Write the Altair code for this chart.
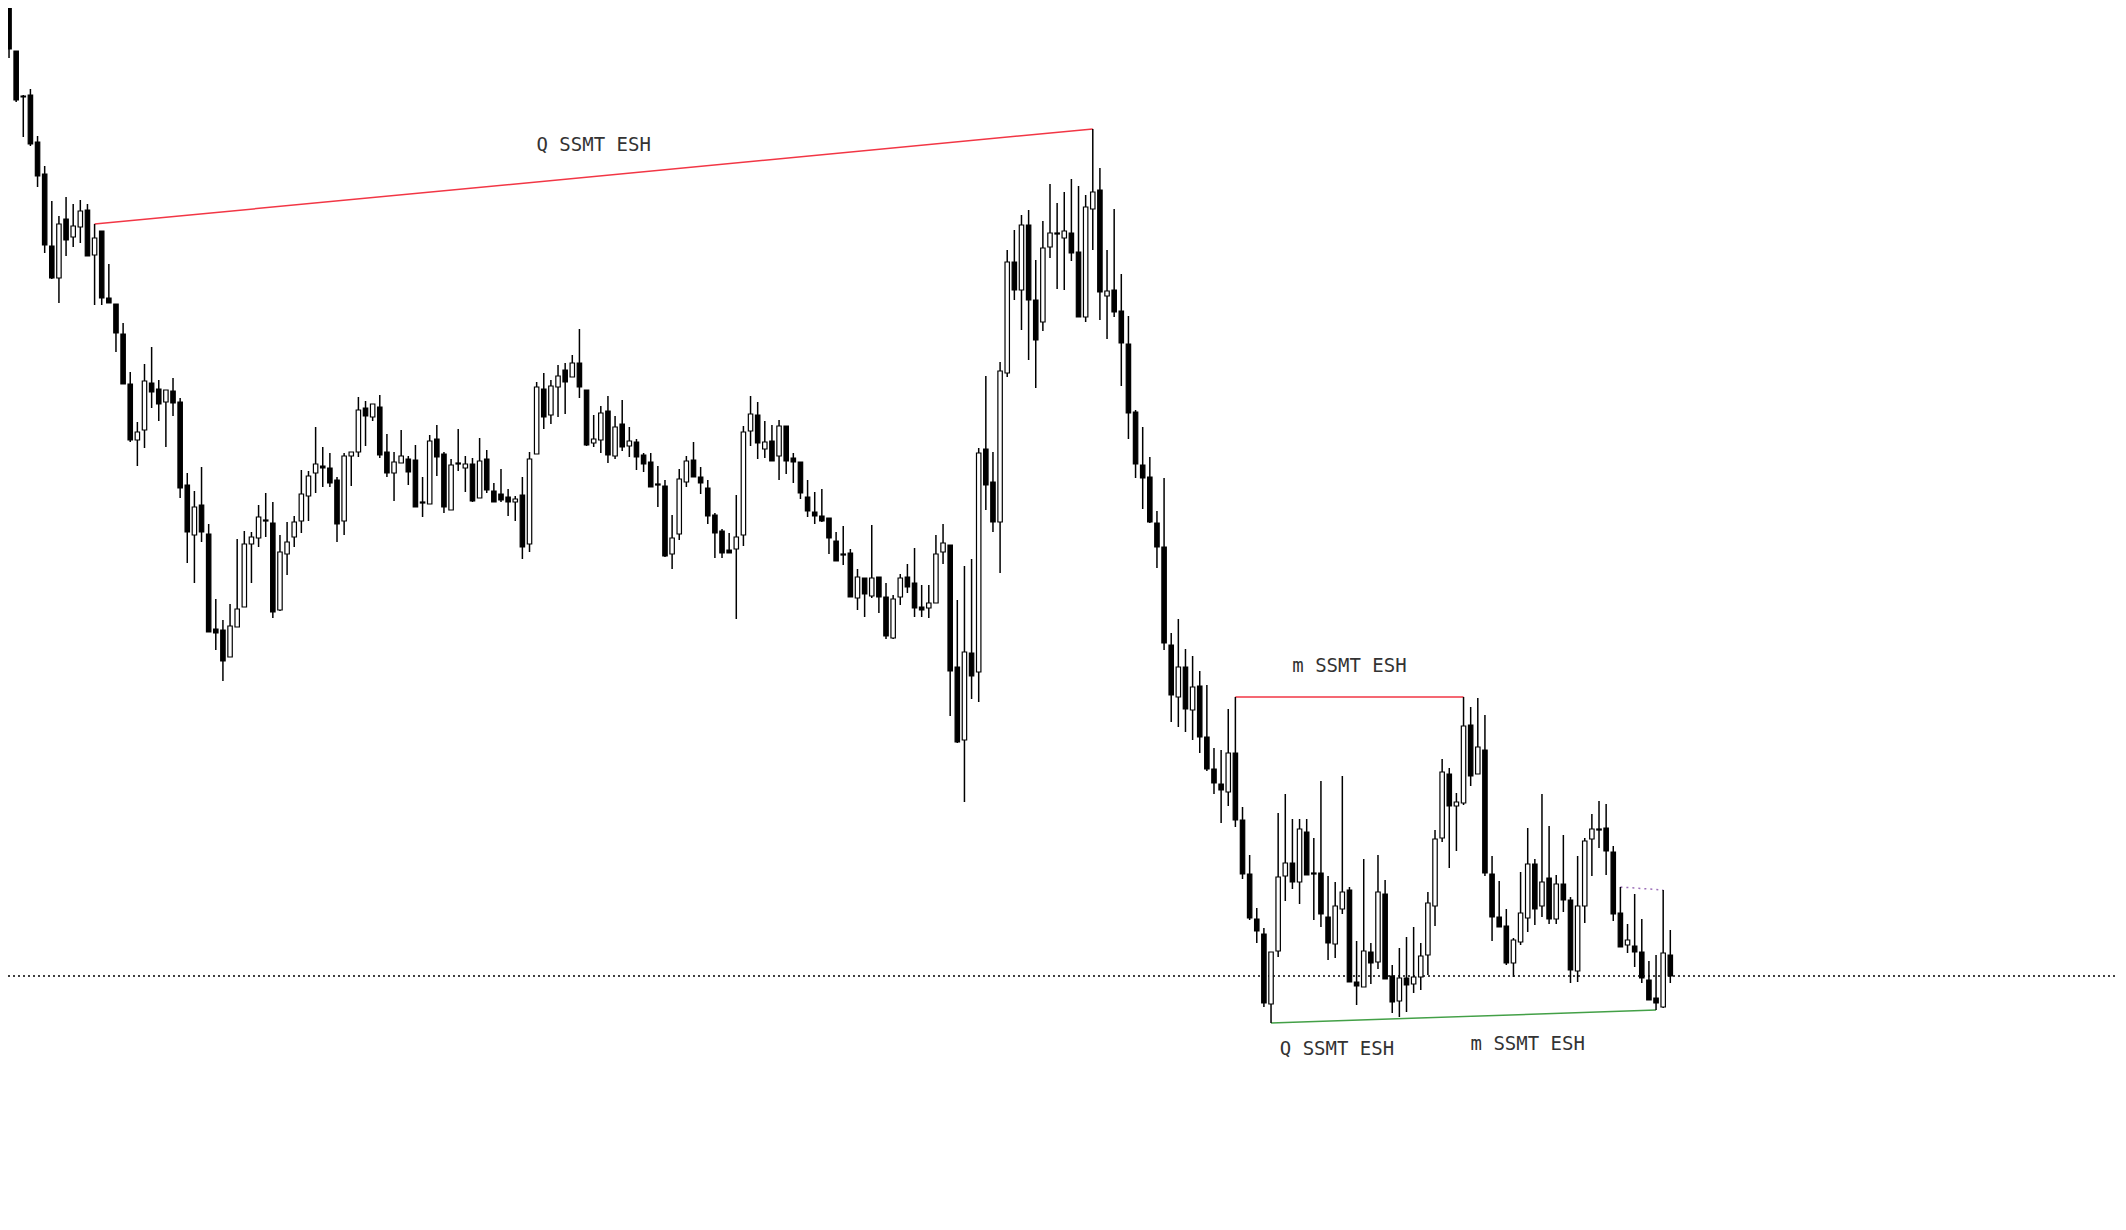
import altair as alt
import pandas as pd

# Prices are stored as ticks (0.25 pt) below a 5000.00 reference level
REF = 5000.0
TICK = 0.25

open_t = [-20, 6, 51, 96, 95, 142, 174, 246, 278, 219,
          237, 227, 210, 255, 231, 298, 304, 334, 384, 440,
          430, 383, 389, 402, 391, 402, 485, 535, 505, 534,
          629, 630, 657, 627, 607, 544, 538, 520, 523, 610,
          554, 537, 521, 496, 473, 466, 468, 480, 521, 456,
          452, 408, 417, 407, 452, 473, 463, 459, 460, 502,
          504, 439, 454, 510, 463, 468, 464, 498, 459, 491,
          494, 497, 502, 495, 544, 454, 389, 415, 387, 370,
          377, 363, 390, 443, 440, 411, 456, 424, 446, 442,
          455, 462, 484, 486, 554, 534, 482, 460, 477, 488,
          515, 531, 550, 549, 535, 431, 415, 449, 441, 456,
          426, 458, 462, 497, 512, 516, 518, 541, 554, 553,
          598, 578, 596, 577, 597, 638, 597, 577, 583, 607,
          608, 603, 552, 545, 667, 740, 653, 672, 449, 482,
          522, 373, 262, 290, 225, 300, 322, 247, 233, 238,
          233, 252, 317, 209, 190, 296, 290, 311, 344, 412,
          465, 477, 523, 547, 645, 697, 667, 710, 686, 737,
          769, 784, 792, 753, 820, 874, 919, 934, 1004, 951,
          876, 863, 882, 832, 873, 873, 917, 944, 909, 890,
          982, 987, 952, 962, 894, 976, 1001, 978, 984, 977,
          955, 906, 838, 774, 806, 803, 725, 774, 750, 874,
          917, 926, 963, 942, 918, 864, 906, 878, 919, 884,
          900, 971, 906, 839, 829, 828, 852, 913, 945, 946,
          952, 980, 998, 1007, 955]

high_t = [-30, 6, 51, 95, 89, 136, 166, 201, 216, 197,
          204, 200, 204, 224, 231, 264, 304, 323, 372, 422,
          364, 347, 380, 390, 378, 398, 473, 491, 467, 524,
          599, 620, 604, 539, 531, 532, 505, 493, 502, 535,
          522, 516, 470, 471, 427, 447, 453, 477, 453, 452,
          397, 401, 404, 395, 434, 452, 430, 456, 445, 477,
          435, 425, 452, 459, 429, 456, 458, 438, 450, 483,
          469, 489, 496, 477, 452, 382, 373, 380, 365, 363,
          355, 329, 390, 415, 406, 396, 416, 400, 427, 439,
          453, 453, 466, 480, 515, 469, 456, 442, 467, 480,
          513, 529, 533, 495, 426, 396, 402, 421, 425, 420,
          426, 453, 462, 480, 492, 489, 518, 532, 526, 549,
          569, 578, 525, 577, 583, 595, 574, 564, 548, 585,
          585, 535, 524, 545, 600, 566, 559, 448, 376, 452,
          362, 250, 230, 215, 210, 260, 221, 184, 203, 192,
          179, 186, 195, 129, 168, 250, 209, 274, 316, 410,
          427, 457, 511, 478, 633, 619, 649, 656, 671, 685,
          748, 750, 709, 697, 807, 855, 908, 928, 952, 813,
          794, 819, 819, 819, 838, 781, 876, 882, 776, 887,
          941, 859, 943, 855, 880, 965, 948, 937, 927, 943,
          892, 830, 759, 768, 793, 697, 707, 698, 715, 856,
          881, 909, 938, 872, 828, 859, 794, 826, 875, 835,
          897, 856, 838, 814, 801, 804, 846, 887, 924, 894,
          919, 961, 955, 890, 930]

low_t = [3, 58, 102, 137, 146, 187, 253, 279, 303, 256,
         247, 243, 256, 305, 305, 303, 352, 384, 442, 466,
         448, 408, 421, 447, 416, 498, 563, 583, 542, 632,
         650, 681, 657, 627, 607, 583, 547, 537, 618, 611,
         575, 547, 533, 521, 493, 487, 487, 542, 535, 486,
         457, 446, 421, 458, 477, 501, 463, 485, 507, 517,
         504, 476, 513, 510, 471, 492, 502, 498, 493, 502,
         502, 516, 521, 559, 552, 454, 429, 424, 417, 414,
         377, 398, 446, 447, 453, 463, 459, 451, 457, 470,
         472, 487, 507, 557, 569, 540, 487, 477, 494, 524,
         558, 558, 553, 619, 546, 446, 459, 458, 461, 480,
         474, 483, 499, 517, 524, 522, 554, 561, 565, 597,
         610, 617, 598, 613, 639, 639, 605, 593, 617, 617,
         618, 603, 564, 716, 743, 802, 699, 702, 510, 532,
         573, 377, 300, 330, 360, 388, 331, 258, 289, 290,
         261, 317, 322, 250, 320, 339, 317, 386, 439, 478,
         509, 523, 568, 650, 722, 727, 732, 740, 753, 771,
         794, 823, 806, 827, 879, 920, 943, 1007, 1023, 957,
         901, 889, 904, 875, 920, 927, 960, 958, 914, 982,
         1005, 987, 984, 969, 979, 1013, 1017, 1012, 993, 990,
         975, 926, 842, 868, 851, 805, 786, 774, 876, 941,
         927, 965, 977, 945, 932, 925, 917, 924, 924, 912,
         983, 982, 923, 876, 848, 875, 921, 947, 953, 967,
         983, 1000, 1010, 1008, 983]

close_t = [1, 49, 100, 97, 144, 176, 245, 278, 224, 240,
           226, 211, 256, 238, 298, 303, 333, 384, 440, 432,
           381, 392, 404, 390, 403, 488, 532, 507, 532, 632,
           633, 661, 626, 609, 544, 537, 517, 521, 612, 552,
           542, 522, 494, 476, 464, 468, 483, 524, 456, 452,
           410, 416, 404, 455, 473, 462, 456, 472, 507, 503,
           441, 457, 507, 465, 464, 464, 501, 461, 490, 502,
           500, 502, 499, 547, 459, 387, 417, 386, 376, 382,
           363, 387, 445, 439, 413, 455, 427, 447, 441, 457,
           464, 487, 485, 556, 538, 479, 461, 477, 483, 516,
           533, 553, 553, 537, 432, 414, 443, 442, 461, 426,
           461, 462, 493, 511, 516, 521, 538, 561, 555, 597,
           577, 594, 578, 597, 636, 599, 578, 587, 608, 610,
           603, 554, 543, 671, 742, 652, 676, 453, 485, 522,
           371, 262, 290, 225, 300, 340, 248, 233, 234, 231,
           253, 317, 207, 192, 292, 291, 312, 343, 413, 464,
           478, 522, 547, 643, 695, 667, 709, 687, 737, 769,
           783, 790, 753, 820, 874, 918, 931, 1003, 952, 877,
           863, 882, 829, 875, 874, 914, 943, 906, 892, 982,
           986, 951, 963, 892, 979, 1002, 978, 985, 977, 956,
           903, 839, 772, 806, 802, 726, 776, 747, 873, 917,
           927, 963, 940, 913, 864, 909, 882, 919, 884, 900,
           970, 906, 841, 829, 830, 851, 914, 947, 940, 952,
           978, 1000, 1003, 953, 976]

n = len(open_t)
assert len(high_t) == n and len(low_t) == n and len(close_t) == n, (len(open_t), len(high_t), len(low_t), len(close_t))


def price(t):
    return REF - TICK * t


df = pd.DataFrame({
    "i": list(range(n)),
    "open": [price(t) for t in open_t],
    "high": [price(t) for t in high_t],
    "low": [price(t) for t in low_t],
    "close": [price(t) for t in close_t],
})
HALF = 0.31
df["x0"] = df["i"] - HALF
df["x1"] = df["i"] + HALF

# Annotations: (start candle, end candle)
q_top = (13, 153)      # red line joining highs
m_top = (173, 205)     # red line joining highs
q_bottom = (178, 232)  # green line joining lows
dotted_top = (227, 233)
ref_level_t = 976      # dotted horizontal level

labels = ["Q SSMT ESH", "m SSMT ESH", "Q SSMT ESH", "m SSMT ESH"]
label_i = [83, 189, 187.25, 214]
label_t = [145, 666, 1049, 1044]

xs = alt.Scale(domain=[0.856, 296.79], nice=False, zero=False)
ys = alt.Scale(domain=[4698, 4998], nice=False, zero=False)


def seg(a, b, col):
    return pd.DataFrame({"i0": [a], "i1": [b],
                         "p0": [df[col][a]], "p1": [df[col][b]]})


def seg_chart(d, color, width=1.5, dash=None):
    kw = dict(color=color, strokeWidth=width, clip=True)
    if dash:
        kw["strokeDash"] = dash
    return alt.Chart(d).mark_rule(**kw).encode(
        x=alt.X("i0:Q", scale=xs, axis=None), x2="i1:Q",
        y=alt.Y("p0:Q", scale=ys, axis=None), y2="p1:Q")


level = alt.Chart(pd.DataFrame({"p": [price(ref_level_t)]})).mark_rule(
    color="black", strokeWidth=1.5, strokeDash=[2, 3]
).encode(y=alt.Y("p:Q", scale=ys, axis=None), x=alt.value(-5), x2=alt.value(2118))

wicks = alt.Chart(df).mark_rule(color="black", strokeWidth=1.5, clip=True).encode(
    x=alt.X("i:Q", scale=xs, axis=None),
    y=alt.Y("low:Q", scale=ys, axis=None), y2="high:Q")

bodies = alt.Chart(df).mark_rect(stroke="black", strokeWidth=1.2, clip=True).encode(
    x=alt.X("x0:Q", scale=xs, axis=None), x2="x1:Q",
    y=alt.Y("open:Q", scale=ys, axis=None), y2="close:Q",
    fill=alt.condition("datum.close >= datum.open", alt.value("white"), alt.value("black")))

red1 = seg_chart(seg(*q_top, "high"), "#f23645")
red2 = seg_chart(seg(*m_top, "high"), "#f23645")
green = seg_chart(seg(*q_bottom, "low"), "#43a047")
purple = seg_chart(seg(*dotted_top, "high"), "#9c6fb8", 1.5, [2, 4])

lab_df = pd.DataFrame({"i": label_i, "p": [price(t) for t in label_t], "t": labels})
texts = alt.Chart(lab_df).mark_text(
    font="DejaVu Sans Mono", fontSize=19, color="#333333", align="center", baseline="middle"
).encode(x=alt.X("i:Q", scale=xs, axis=None), y=alt.Y("p:Q", scale=ys, axis=None), text="t:N")

chart = alt.layer(level, red1, red2, green, purple, wicks, bodies, texts).properties(
    width=2110, height=1200, padding=0,
    autosize=alt.AutoSizeParams(type="none")
).configure_view(strokeWidth=0)

chart.save("out.html", embed_options={"renderer": "svg", "actions": False})
